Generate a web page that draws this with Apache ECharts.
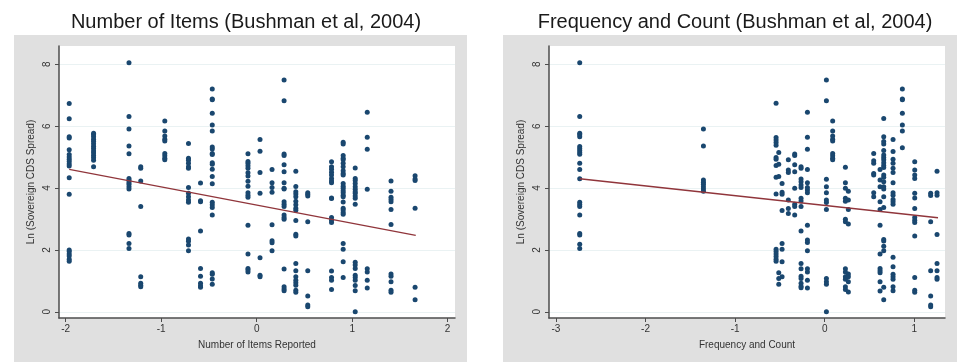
<!DOCTYPE html>
<html>
<head>
<meta charset="utf-8">
<script src="https://cdn.jsdelivr.net/npm/echarts@6/dist/echarts.min.js"></script>
<style>
html, body { margin: 0; padding: 0; background: #fff; }
#chart { width: 961px; height: 362px; }
</style>
</head>
<body>
<div id="chart"></div>
<script>
// left panel: number of items reported, one entry per x column: [x, [y values]]
const itemsCols = [
  [-1.963, [6.73, 6.24, 5.66, 5.62, 5.24, 5.08, 5.0, 4.93, 4.86, 4.78, 4.71, 4.33, 3.80, 2.0, 1.95, 1.87, 1.80, 1.70, 1.63]],
  [-1.708, [5.77, 5.72, 5.66, 5.58, 5.51, 5.43, 5.35, 5.28, 5.20, 5.13, 5.05, 4.98, 4.90, 4.69]],
  [-1.337, [8.05, 6.31, 5.91, 5.36, 5.11, 4.31, 4.25, 4.18, 4.12, 4.04, 3.97, 2.53, 2.48, 2.21, 2.05]],
  [-1.214, [4.69, 4.64, 4.23, 3.40, 1.13, 0.92, 0.86, 0.81]],
  [-0.962, [6.17, 5.84, 5.68, 5.58, 5.52, 5.12, 5.04, 4.96, 4.91]],
  [-0.714, [5.44, 4.96, 4.90, 4.80, 4.69, 4.64, 4.02, 3.83, 3.72, 3.61, 3.54, 2.35, 2.28, 2.16, 1.97]],
  [-0.588, [4.16, 3.59, 3.56, 2.61, 1.40, 1.15, 0.92, 0.84, 0.79]],
  [-0.465, [7.20, 6.88, 6.85, 6.42, 6.04, 5.84, 5.33, 5.26, 5.12, 5.08, 4.82, 4.77, 4.61, 4.37, 4.14, 3.54, 3.46, 3.37, 3.13, 1.26, 1.21, 1.06, 0.89]],
  [-0.091, [5.11, 4.86, 4.80, 4.72, 4.64, 4.49, 4.39, 4.22, 4.06, 3.85, 3.77, 3.70, 2.80, 1.87, 1.40, 1.35, 1.29]],
  [0.035, [5.57, 5.19, 4.50, 3.83, 1.75, 1.18, 1.13]],
  [0.161, [4.60, 4.17, 4.02, 3.86, 2.81, 2.30, 2.23, 1.97]],
  [0.287, [7.49, 6.82, 5.10, 5.05, 4.75, 4.53, 4.17, 3.99, 3.97, 3.56, 3.48, 3.40, 3.13, 3.05, 2.99, 1.38, 0.81, 0.74, 0.68]],
  [0.410, [4.54, 4.05, 3.88, 3.81, 3.72, 3.57, 3.46, 3.35, 3.28, 2.95, 2.51, 2.45, 1.56, 1.33, 1.13, 1.02, 0.94, 0.86, 0.70, 0.63]],
  [0.535, [3.85, 3.80, 3.74, 2.91, 1.33, 0.51, 0.22, 0.16]],
  [0.784, [4.85, 4.69, 4.61, 4.51, 4.42, 4.31, 4.23, 4.17, 3.68, 3.66, 3.05, 2.96, 2.89, 1.32, 1.11, 1.02, 0.72]],
  [0.906, [5.48, 5.42, 5.05, 4.96, 4.91, 4.80, 4.69, 4.56, 4.47, 4.42, 4.15, 4.06, 3.99, 3.91, 3.85, 3.77, 3.72, 3.55, 3.35, 3.29, 3.21, 3.15, 2.21, 2.02, 1.62, 1.11]],
  [1.032, [4.65, 4.31, 4.24, 4.15, 4.04, 3.96, 3.88, 3.83, 3.74, 3.67, 3.48, 1.60, 1.51, 1.40, 1.18, 1.11, 1.02, 0.85, 0.68, 0.00]],
  [1.158, [6.45, 5.64, 5.25, 3.96, 1.39, 1.29, 1.02, 0.77]],
  [1.407, [4.23, 3.90, 3.70, 3.63, 3.56, 3.31, 2.82, 1.22, 1.15, 0.97, 0.70, 0.63]],
  [1.659, [4.40, 4.29, 4.24, 3.35, 0.79, 0.39]]
];
const itemsFit = [[-1.963, 4.60], [1.666, 2.47]];

// right panel: frequency and count
const freqCols = [
  [-2.735, [8.05, 6.31, 5.77, 5.72, 5.66, 5.34, 5.28, 5.21, 5.15, 5.09, 4.80, 4.60, 4.30, 3.54, 3.47, 3.40, 3.13, 2.53, 2.48, 2.18, 2.05]],
  [-1.354, [5.91, 5.36, 4.26, 4.19, 4.12, 4.04, 3.97, 3.90]],
  [-0.543, [6.74, 5.63, 5.55, 5.47, 5.38, 4.99, 4.93, 4.73, 4.35, 3.81, 2.02, 1.95, 1.87, 1.79, 1.70, 1.63]],
  [-0.513, [5.15, 4.77, 4.37, 1.26, 1.08, 0.89]],
  [-0.476, [4.15, 3.86, 3.80, 3.27, 2.21, 2.02, 1.62, 1.13]],
  [-0.406, [4.91, 4.58, 4.50, 3.61, 3.34, 3.18]],
  [-0.335, [5.10, 5.05, 4.75, 4.53, 3.99, 3.48, 3.40, 3.13]],
  [-0.264, [4.69, 4.64, 4.29, 4.20, 4.10, 4.02, 3.67, 3.58, 3.40, 2.61, 1.56, 1.39, 1.15, 1.08, 0.92, 0.83, 0.78]],
  [-0.193, [6.45, 5.64, 5.25, 4.60, 4.17, 4.02, 3.94, 3.85, 2.80, 2.32, 2.24, 1.97, 1.39, 1.29, 1.02, 0.77]],
  [0.019, [7.49, 6.82, 4.28, 4.04, 3.85, 3.61, 3.53, 3.31, 1.08, 0.97, 0.89, 0.00]],
  [0.089, [6.17, 5.84, 5.68, 5.58, 5.52, 5.12, 5.04, 4.96, 4.91]],
  [0.231, [4.67, 4.17, 3.99, 3.67, 3.57, 2.99, 2.91, 1.39, 1.29, 1.13, 1.05, 0.81, 0.72]],
  [0.264, [3.90, 3.61, 3.31, 2.84, 1.22, 1.13, 0.97, 0.64]],
  [0.547, [5.12, 4.88, 4.80, 4.47, 4.42, 3.85, 3.72]],
  [0.618, [4.60, 4.26, 4.04, 3.56, 3.31, 2.80, 1.87, 1.40, 1.33, 1.26, 0.97, 0.67]],
  [0.659, [6.25, 5.66, 5.50, 5.42, 5.21, 5.07, 4.99, 4.91, 4.82, 4.73, 4.66, 4.42, 4.35, 4.20, 4.04, 3.97, 3.72, 3.37, 2.34, 2.29, 2.12, 1.97, 0.79, 0.39]],
  [0.763, [5.57, 5.18, 4.93, 4.80, 4.64, 4.50, 4.17, 3.85, 3.77, 3.63, 3.56, 3.48, 1.76, 1.46, 1.21, 1.13, 1.05, 0.81, 0.68]],
  [0.867, [7.20, 6.88, 6.85, 6.42, 6.04, 5.84, 5.30]],
  [1.005, [4.85, 4.58, 4.42, 4.31, 3.83, 3.68, 3.34, 3.05, 2.96, 2.89, 2.45, 1.11, 0.70, 0.63]],
  [1.183, [3.83, 3.76, 2.91, 1.33, 0.51, 0.22, 0.16]],
  [1.254, [4.54, 3.85, 3.77, 2.50, 1.56, 1.33, 1.11, 1.05]]
];
const freqFit = [[-2.735, 4.30], [1.265, 3.04]];

const yTicks = [0, 2, 4, 6, 8];
const itemsTicks = [-2, -1, 0, 1, 2];
const freqTicks = [-3, -2, -1, 0, 1];

const titles = ['Number of Items (Bushman et al, 2004)', 'Frequency and Count (Bushman et al, 2004)'];
const xNames = ['Number of Items Reported', 'Frequency and Count'];
const yName = 'Ln (Sovereign CDS Spread)';

const toPoints = cols => cols.flatMap(c => c[1].map(v => [c[0], v]));

const navy = '#1a476f';
const maroon = '#90353b';
const font = 'Liberation Sans';

const xAxisOf = (i, min, max, ticks) => ({
  type: 'value', gridIndex: i, min: min, max: max,
  name: xNames[i], nameLocation: 'middle', nameGap: 22,
  nameTextStyle: { fontSize: 10, color: '#333', fontFamily: font },
  axisLine: { onZero: false, lineStyle: { color: '#4d4d4d', width: 1.5 } },
  axisTick: { show: true, inside: false, length: 4, customValues: ticks, lineStyle: { color: '#4d4d4d' } },
  axisLabel: { customValues: ticks, fontSize: 10, color: '#333', margin: 6, fontFamily: font },
  splitLine: { show: false }
});
const yAxisOf = i => ({
  type: 'value', gridIndex: i, min: -0.2, max: 8.59,
  name: yName, nameLocation: 'middle', nameGap: 23,
  nameTextStyle: { fontSize: 10, color: '#333', fontFamily: font },
  axisLine: { show: true, onZero: false, lineStyle: { color: '#4d4d4d', width: 1.5 } },
  axisTick: { show: true, inside: false, length: 4, customValues: yTicks, lineStyle: { color: '#4d4d4d' } },
  axisLabel: { customValues: yTicks, rotate: 90, fontSize: 10, color: '#333', margin: 7, fontFamily: font },
  splitLine: { show: true, lineStyle: { color: '#eaf2f3', width: 1.2 } }
});

const chart = echarts.init(document.getElementById('chart'), null, { renderer: 'canvas' });
chart.setOption({
  animation: false,
  backgroundColor: '#fff',
  graphic: [
    { type: 'rect', z: -10, shape: { x: 14, y: 35, width: 453, height: 327 }, style: { fill: '#e0e0e0' } },
    { type: 'rect', z: -10, shape: { x: 503, y: 35, width: 454, height: 327 }, style: { fill: '#e0e0e0' } }
  ],
  title: [
    { text: titles[0], left: 241, top: 7, textAlign: 'center', textStyle: { fontSize: 20, fontWeight: 'normal', color: '#1a1a1a', fontFamily: font } },
    { text: titles[1], left: 730, top: 7, textAlign: 'center', textStyle: { fontSize: 20, fontWeight: 'normal', color: '#1a1a1a', fontFamily: font } }
  ],
  grid: [
    { left: 59, right: 506, top: 46, bottom: 44, show: true, backgroundColor: '#fff', borderWidth: 0 },
    { left: 549, right: 16, top: 46, bottom: 44, show: true, backgroundColor: '#fff', borderWidth: 0 }
  ],
  xAxis: [xAxisOf(0, -2.07, 2.077, itemsTicks), xAxisOf(1, -3.078, 1.343, freqTicks)],
  yAxis: [yAxisOf(0), yAxisOf(1)],
  series: [
    { type: 'scatter', xAxisIndex: 0, yAxisIndex: 0, data: toPoints(itemsCols), symbolSize: 5, itemStyle: { color: navy, opacity: 1 } },
    { type: 'line', xAxisIndex: 0, yAxisIndex: 0, data: itemsFit, showSymbol: false, lineStyle: { color: maroon, width: 1.3 }, z: 3 },
    { type: 'scatter', xAxisIndex: 1, yAxisIndex: 1, data: toPoints(freqCols), symbolSize: 5, itemStyle: { color: navy, opacity: 1 } },
    { type: 'line', xAxisIndex: 1, yAxisIndex: 1, data: freqFit, showSymbol: false, lineStyle: { color: maroon, width: 1.3 }, z: 3 }
  ]
});
</script>
</body>
</html>
